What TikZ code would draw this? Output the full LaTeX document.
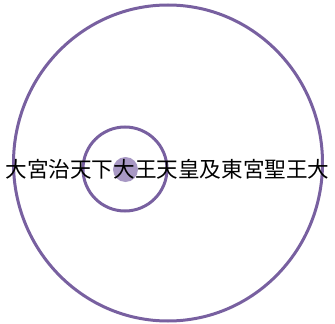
\documentclass[tikz,border=0pt]{standalone}
\usetikzlibrary{shapes.geometric}
\usepackage{fontspec}
\newfontfamily\cjk{Noto Sans CJK JP}
\definecolor{ringc}{RGB}{120,96,160}
\definecolor{dotc}{RGB}{168,152,196}
\tikzset{ring/.style={draw=ringc,line width=3pt}}
\begin{document}
\begin{tikzpicture}[x=1pt,y=-1pt]
\useasboundingbox (0,0) rectangle (335,324);
\node[ring,ellipse,minimum width=309pt,minimum height=316pt,inner sep=0pt] (big) at (168,163) {};
\node[ring,circle,minimum size=84pt,inner sep=0pt] (small) at (125,169) {};
\node[fill=dotc,circle,minimum size=25pt,inner sep=0pt] (dot) at (125.5,169.5) {};
\node[inner sep=0pt,font=\cjk\fontsize{21.6pt}{22pt}\selectfont] (txt) at (167.5,169) {大宮治天下大王天皇及東宮聖王大};
\end{tikzpicture}
\end{document}
